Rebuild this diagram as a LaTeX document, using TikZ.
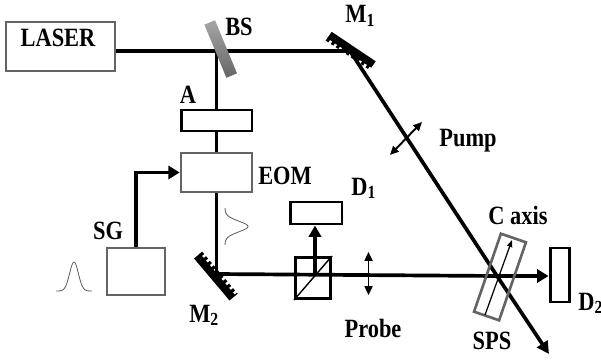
\documentclass[tikz,border=0pt]{standalone}
\usepackage{fontspec}
\setmainfont[FakeStretch=0.85]{Liberation Serif}
\usetikzlibrary{arrows.meta, positioning, calc}
\definecolor{framegray}{RGB}{100, 100, 100}
\definecolor{pulsegray}{RGB}{90, 90, 90}
\tikzset{
    graybox/.style={draw=framegray, line width=1.5pt, fill=white, inner sep=0pt},
    blackbox/.style={draw=black, line width=1.7pt, fill=white, inner sep=0pt},
    beam/.style={line width=2.1pt},
    lbl/.style={font=\bfseries\fontsize{15}{17}\selectfont, inner sep=0pt},
    mirrorbar/.style={line width=4.4pt},
    mirrorteeth/.style={line width=2pt, dash pattern=on 1.8pt off 1.6pt},
    twoway/.style={line width=1.1pt, {Triangle[length=5pt, width=4.5pt]}-{Triangle[length=5pt, width=4.5pt]}},
    pulse/.style={draw=pulsegray, line width=0.45pt}
}
\begin{document}
\begin{tikzpicture}[x=0.02cm, y=-0.02cm]
        \useasboundingbox (0,0) rectangle (601,361);
        % beam path points
        \coordinate (bs) at (216.5,51);
        \coordinate (m1) at (350,51);
        \coordinate (m2) at (216.5,274);
        \coordinate (cross) at (497,276);
        \coordinate (pumpend) at (549,354);
        \coordinate (cubearm) at (315,273);
        % boxes
        \node[graybox, minimum width=2.18cm, minimum height=0.98cm] (laser) at (60.5,46.5) {};
        \node[blackbox, minimum width=1.42cm, minimum height=0.42cm] (atten) at (216.5,120.5) {};
        \node[graybox, minimum width=1.42cm, minimum height=0.78cm] (eom) at (216.5,172.5) {};
        \node[graybox, minimum width=1.16cm, minimum height=0.94cm] (sg) at (136,271.5) {};
        \node[blackbox, minimum width=1.04cm, minimum height=0.44cm] (done) at (316,213) {};
        \node[blackbox, minimum width=0.38cm, minimum height=1.08cm] (dtwo) at (559.5,275) {};
        % beams
        \draw[beam] (laser.east |- bs) -- (m1);
        \draw[beam] (bs) -- (atten.north);
        \draw[beam] (atten.south) -- (eom.north);
        \draw[beam] (eom.south) -- (m2);
        \draw[beam] (m1) -- (cross);
        \draw[beam, -{Triangle[length=7pt, width=7pt]}] (cross) -- (pumpend);
        \draw[beam, -{Triangle[length=6.5pt, width=7.5pt]}] (m2) -- (cross) -- (dtwo.west |- cross);
        \draw[beam, -{Triangle[length=6.5pt, width=7.5pt]}] (sg.north) -- (sg.north |- eom.west) -- (eom.west);
        % beam splitter
        \node[rotate=22.5, minimum width=0.23cm, minimum height=1.15cm, inner sep=0pt,
            top color=black!35, bottom color=black!60] (splitter) at (220.7,49) {};
        % mirrors
        \draw[mirrorbar] (329.5,35) coordinate (ma) -- (373.5,64.5) coordinate (mb);
        \draw[mirrorteeth] ($(ma)!0.1cm!-90:(mb)$) -- ($(mb)!0.1cm!90:(ma)$);
        \draw[mirrorbar] (197,256) coordinate (mc) -- (232.5,298) coordinate (md);
        \draw[mirrorteeth] ($(mc)!0.1cm!90:(md)$) -- ($(md)!0.1cm!-90:(mc)$);
        % cube and detector arm
        \node[blackbox, fill=none, minimum width=0.7cm, minimum height=0.82cm] (cube) at (313,278) {};
        \draw[line width=0.8pt] (cube.south west) -- (cube.north east);
        \draw[beam, -{Triangle[length=6.5pt, width=7pt]}] (cubearm) -- (cubearm |- done.south);
        % waveplate arrows
        \coordinate (pa) at (422,122);
        \coordinate (pb) at (390,155);
        \draw[twoway] (pa) -- (pb);
        \coordinate (qa) at (368.5,252);
        \coordinate (qb) at (368.5,295);
        \draw[twoway] (qa) -- (qb);
        % crystal
        \node[draw=framegray, line width=1.5pt, rotate=-19, minimum width=0.53cm, minimum height=1.65cm, inner sep=0pt] (sps) at (500,277) {};
        \coordinate (axa) at (485,315);
        \coordinate (axb) at (512,240);
        \draw[line width=0.7pt, -{Triangle[length=4pt, width=3pt]}] (axa) -- (axb);
        % pulses
        \draw[pulse] plot[smooth, samples=40, domain=56:92] (\x,{291-29*exp(-((\x-74)/6.2)^2)});
        \draw[pulse] plot[smooth, samples=40, domain=208:245] ({225+23*exp(-((\x-226.5)/7.5)^2)},\x);
        % labels
        \node[lbl] (tlaser) at (58,38) {LASER};
        \node[lbl] (tbs) at (239,27) {BS};
        \node[lbl] (ta) at (188,95) {A};
        \node[lbl] (teom) at (285,176) {EOM};
        \node[lbl] (tsg) at (108,231) {SG};
        \node[lbl, anchor=base west] (tmone) at (345,23) {M\textsubscript{1}};
        \node[lbl, anchor=base west] (tmtwo) at (189,322) {M\textsubscript{2}};
        \node[lbl, anchor=base west] (tdone) at (351,195) {D\textsubscript{1}};
        \node[lbl, anchor=base west] (tdtwo) at (578,310) {D\textsubscript{2}};
        \node[lbl] (tpump) at (468,141) {Pump};
        \node[lbl] (tprobe) at (373,328) {Probe};
        \node[lbl] (tsps) at (492,341) {SPS};
        \node[lbl] (tcaxis) at (518,215) {C axis};
\end{tikzpicture}
\end{document}
